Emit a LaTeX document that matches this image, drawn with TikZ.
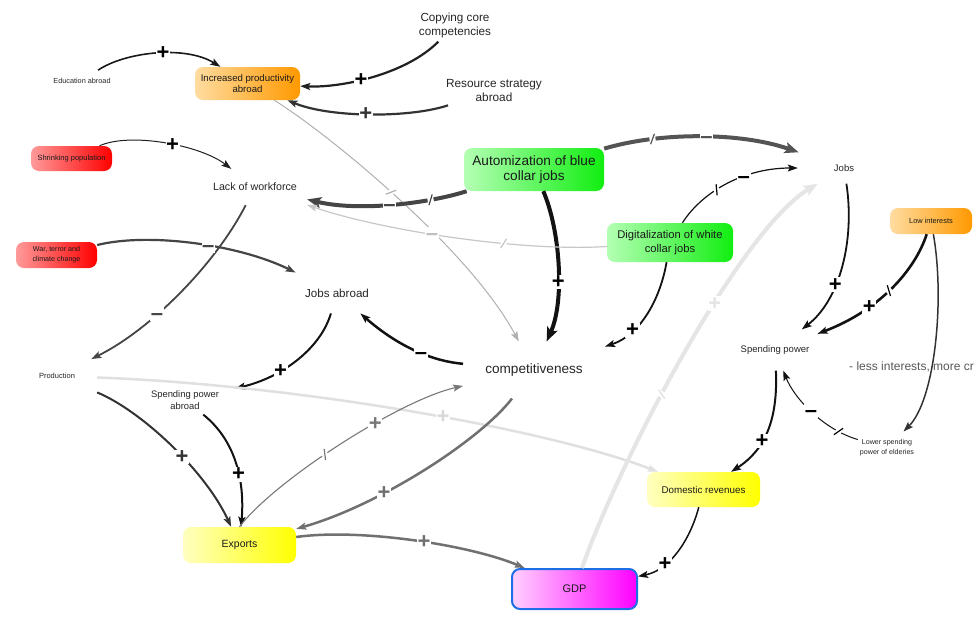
\documentclass[tikz,border=0pt]{standalone}
\usepackage{fontspec}
\setmainfont{Liberation Sans}
\usetikzlibrary{arrows.meta,decorations.markings}
\newcommand\fsz[2]{\fontsize{#1}{#2}\selectfont}
\definecolor{orL}{HTML}{FFDCA0}\definecolor{orR}{HTML}{FF9900}
\definecolor{rdL}{HTML}{FF9A9A}\definecolor{rdR}{HTML}{FF0000}
\definecolor{grL}{HTML}{B4FFB4}\definecolor{grR}{HTML}{11EE11}
\definecolor{ylL}{HTML}{FFFFC0}\definecolor{ylR}{HTML}{FFFF00}
\definecolor{mgL}{HTML}{FFD0FF}\definecolor{mgR}{HTML}{FF00FF}
\definecolor{gdpB}{HTML}{1E6EE6}
\tikzset{
  box/.style={rounded corners=8pt, inner sep=0pt, align=center, text=black!90},
  plain/.style={align=center, text=black!85},
  lk/.style={draw=#1, line width=1pt, -{Stealth[length=10pt,width=7pt,inset=2pt]}},
  thicktip/.style={-{Stealth[length=14pt,width=11pt,inset=3pt]}},
  sgn/.style={fill=white, inner sep=0.6pt, text=#1, text height=13pt, text depth=-2pt, font=\fsz{22}{22}\bfseries},
  delaymark/.style 2 args={postaction={decorate,decoration={markings,mark=at position #1 with {\fill[white] (-3pt,-5pt) rectangle (3pt,5pt); \draw[-,draw=#2,line width=1.2pt] (-2.5pt,-5pt)--(2.5pt,5pt);}}}},
}
\begin{document}
\begin{tikzpicture}[x=1pt,y=-1pt]
\fill[white] (0,0) rectangle (979,633);
\useasboundingbox (0,0) rectangle (979,633);
% nodes
\node[plain,font=\fsz{7.3}{9},inner xsep=2pt,inner ysep=8pt] (edu) at (82,81) {Education abroad};
\node[box,left color=orL,right color=orR,minimum width=105pt,minimum height=33pt,font=\fsz{9.6}{11.5}] (inc) at (247.5,83.5) {Increased productivity\\abroad};
\node[plain,font=\fsz{11.7}{14},inner xsep=2pt,inner ysep=4pt] (copy) at (455,25) {Copying core\\competencies};
\node[plain,font=\fsz{11.8}{14},inner xsep=4pt,inner ysep=4pt] (res) at (494,90) {Resource strategy\\abroad};
\node[box,left color=rdL,right color=rdR,minimum width=81pt,minimum height=25pt,font=\fsz{7.5}{9}] (shr) at (71.5,158.5) {Shrinking population};
\node[plain,font=\fsz{10.7}{12},inner xsep=10pt,inner ysep=14pt] (low) at (255,187) {Lack of workforce};
\node[box,left color=grL,right color=grR,minimum width=140pt,minimum height=43pt,font=\fsz{13.6}{15.5}] (auto) at (534,169.5) {Automization of blue\\collar jobs};
\node[plain,font=\fsz{9.5}{11},inner xsep=36pt,inner ysep=12pt] (jobs) at (844,168) {Jobs};
\node[box,left color=orL,right color=orR,minimum width=82pt,minimum height=26pt,font=\fsz{7.4}{9}] (lint) at (931,221) {Low interests};
\node[box,left color=grL,right color=grR,minimum width=126pt,minimum height=39pt,font=\fsz{11.2}{14}] (digi) at (670,242.5) {Digitalization of white\\collar jobs};
\node[box,left color=rdL,right color=rdR,minimum width=81pt,minimum height=26pt,font=\fsz{7.1}{10}] (war) at (56.5,255) {War, terror and\\climate change};
\node[plain,font=\fsz{11.6}{13},inner xsep=10pt,inner ysep=16pt] (jab) at (337,293) {Jobs abroad};
\node[plain,font=\fsz{13.6}{15},inner xsep=22pt,inner ysep=22pt] (comp) at (534,370) {competitiveness};
\node[plain,font=\fsz{9.5}{11},inner xsep=8pt,inner ysep=16pt] (sp) at (775,350) {Spending power};
\node[plain,font=\fsz{7.5}{9},inner xsep=22pt,inner ysep=14pt] (prod) at (57,376) {Production};
\node[plain,font=\fsz{9.4}{12},inner xsep=16pt,inner ysep=5pt] (spa) at (185,400) {Spending power\\abroad};
\node[plain,font=\fsz{7.1}{10},inner xsep=2pt,inner ysep=8pt] (lower) at (887,448) {Lower spending\\power of elderies};
\node[box,left color=ylL,right color=ylR,minimum width=113pt,minimum height=35pt,font=\fsz{9.8}{12}] (dom) at (703.5,489.5) {Domestic revenues};
\node[box,left color=ylL,right color=ylR,minimum width=113pt,minimum height=36pt,font=\fsz{10.5}{12}] (exp) at (239.5,545) {Exports};
\node[box,left color=mgL,right color=mgR,draw=gdpB,line width=2pt,minimum width=125pt,minimum height=40pt,font=\fsz{11}{13}] (gdp) at (574.5,589) {GDP};
% connectors
\draw[lk=black!90,line width=1.6pt] (edu) .. controls (125,52) and (185,45) .. (inc) node[sgn=black,pos=.55]{+};
\draw[lk=black!87,line width=2.2pt] (copy) .. controls (405,75) and (340,88) .. (inc) node[sgn=black,pos=.57]{+};
\draw[lk=black!80,line width=2.2pt] (res) .. controls (410,118) and (330,118) .. (inc) node[sgn=black!80,pos=.52]{+};
\draw[lk=black!31,line width=1pt,delaymark={.43}{black!31}] (inc) .. controls (330,135) and (470,250) .. (comp);
\draw[lk=black!87,line width=1pt] (shr) .. controls (130,132) and (200,145) .. (low) node[sgn=black,pos=.55]{+};
\draw[lk=black!73,line width=4pt,thicktip,delaymark={.23}{black!73}] (auto) .. controls (430,203) and (360,212) .. (low) node[sgn=black!73,pos=.52]{–};
\draw[lk=black!67,line width=4pt,thicktip,delaymark={.25}{black!67}] (auto) .. controls (660,132) and (740,132) .. (jobs) node[sgn=black!67,pos=.53]{–};
\draw[lk=black!93,line width=4pt,thicktip] (auto) .. controls (560,230) and (565,300) .. (comp) node[sgn=black,pos=.6]{+};
\draw[lk=black!22,line width=1.2pt,delaymark={.34}{black!22}] (digi) .. controls (520,252) and (380,230) .. (low) node[sgn=black!25,pos=.56]{–};
\draw[lk=black!93,line width=1.2pt,delaymark={.36}{black}] (digi) .. controls (700,195) and (740,168) .. (jobs) node[sgn=black,pos=.65]{–};
\draw[lk=black!93,line width=1.8pt] (digi) .. controls (660,300) and (640,335) .. (comp) node[sgn=black,pos=.7]{+};
\draw[lk=black!73,line width=1.8pt] (low) .. controls (215,265) and (150,330) .. (prod) node[sgn=black!73,pos=.63]{–};
\draw[lk=black!73,line width=2.2pt] (war) .. controls (150,232) and (240,245) .. (jab) node[sgn=black!73,pos=.56]{–};
\draw[lk=black!93,line width=2pt] (jab) .. controls (320,350) and (280,378) .. (spa) node[sgn=black,pos=.64]{+};
\draw[lk=black!93,line width=2.5pt] (comp) .. controls (420,360) and (385,335) .. (jab) node[sgn=black,pos=.35]{–};
\draw[lk=black!80,line width=2pt] (prod) .. controls (140,410) and (205,470) .. (exp) node[sgn=black!80,pos=.58]{+};
\draw[lk=black!12,line width=2.5pt] (prod) .. controls (300,385) and (550,430) .. (dom) node[sgn=black!15,pos=.55]{+};
\draw[lk=black!93,line width=2pt] (spa) .. controls (235,440) and (245,480) .. (exp) node[sgn=black,pos=.6]{+};
\draw[lk=black!53,line width=1.1pt,delaymark={.42}{black!53}] (exp.north) .. controls (275,480) and (400,400) .. (comp) node[sgn=black!53,pos=.63]{+};
\draw[lk=black!56,line width=2.5pt] (comp) .. controls (480,440) and (380,505) .. (exp) node[sgn=black!56,pos=.66]{+};
\draw[lk=black!56,line width=2.5pt] (exp) .. controls (360,528) and (470,545) .. (gdp) node[sgn=black!56,pos=.54]{+};
\draw[lk=black!10,line width=4pt,thicktip,delaymark={.42}{black!12}] (gdp) .. controls (620,460) and (740,230) .. (jobs) node[sgn=black!10,pos=.61]{+};
\draw[lk=black!93,line width=1.8pt] (jobs) .. controls (855,240) and (840,300) .. (sp) node[sgn=black,pos=.62]{+};
\draw[lk=black!93,line width=2.6pt,delaymark={.45}{black}] (lint) .. controls (915,270) and (880,310) .. (sp) node[sgn=black,pos=.68]{+};
\draw[lk=black!80,line width=1.5pt] (lint) .. controls (945,300) and (935,400) .. (lower);
\draw[lk=black!93,line width=1pt,delaymark={.2}{black}] (lower) .. controls (825,430) and (795,400) .. (sp) node[sgn=black,pos=.52]{–};
\draw[lk=black!93,line width=2pt] (sp) .. controls (778,420) and (765,450) .. (dom) node[sgn=black,pos=.6]{+};
\draw[lk=black!93,line width=1.5pt] (dom) .. controls (690,540) and (670,570) .. (gdp) node[sgn=black,pos=.68]{+};
\node[anchor=west,text=black!65,font=\fsz{12}{14},inner sep=0pt] (less) at (849,367) {- less interests, more cr};
\end{tikzpicture}
\end{document}
